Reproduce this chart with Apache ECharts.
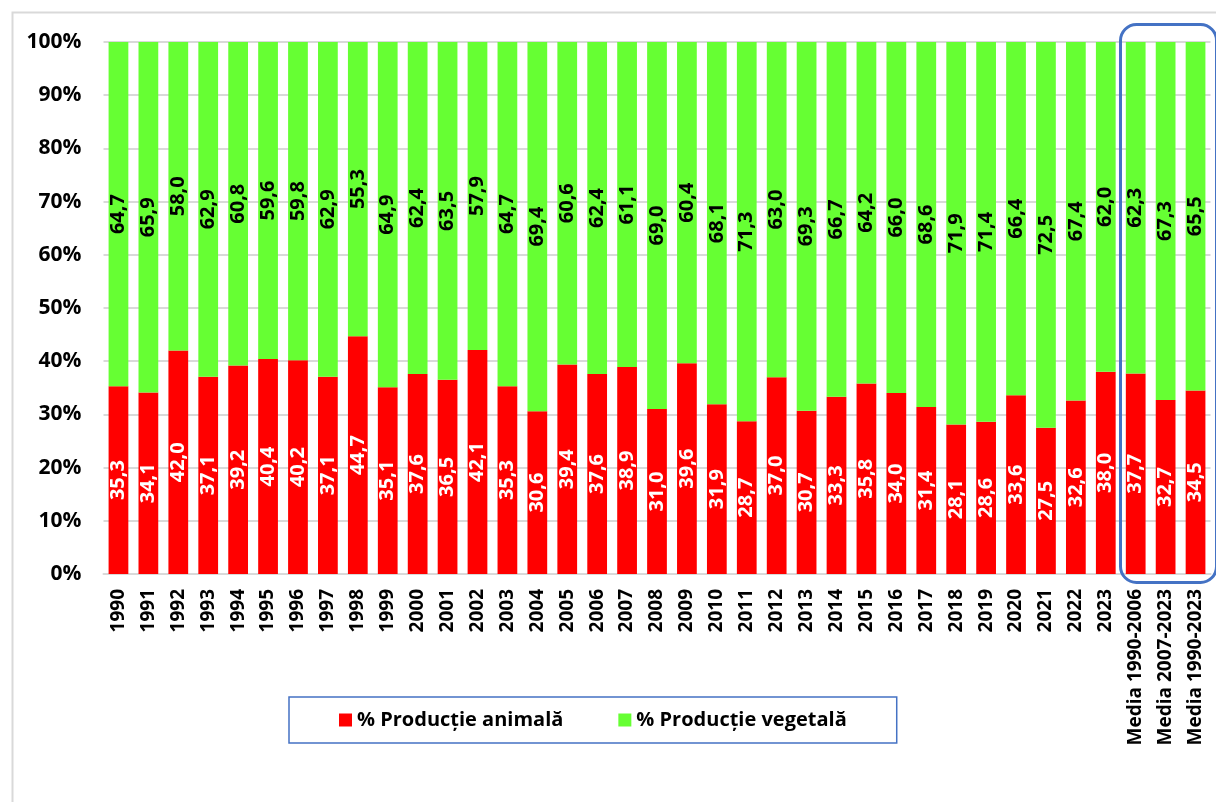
<!DOCTYPE html>
<html>
<head>
<meta charset="utf-8">
<script src="https://cdn.jsdelivr.net/npm/echarts@6/dist/echarts.min.js"></script>
<style>
    html, body { margin: 0; padding: 0; background: #fff; }
    #chart { width: 1216px; height: 802px; }
</style>
</head>
<body>
<div id="chart"></div>
<script>
var categories = ['1990', '1991', '1992', '1993', '1994', '1995', '1996', '1997', '1998', '1999',
    '2000', '2001', '2002', '2003', '2004', '2005', '2006', '2007', '2008', '2009',
    '2010', '2011', '2012', '2013', '2014', '2015', '2016', '2017', '2018', '2019',
    '2020', '2021', '2022', '2023', 'Media 1990-2006', 'Media 2007-2023', 'Media 1990-2023'];

var animalValues = [35.3, 34.1, 42.0, 37.1, 39.2, 40.4, 40.2, 37.1, 44.7, 35.1,
    37.6, 36.5, 42.1, 35.3, 30.6, 39.4, 37.6, 38.9, 31.0, 39.6,
    31.9, 28.7, 37.0, 30.7, 33.3, 35.8, 34.0, 31.4, 28.1, 28.6,
    33.6, 27.5, 32.6, 38.0, 37.7, 32.7, 34.5];

var vegetalValues = [64.7, 65.9, 58.0, 62.9, 60.8, 59.6, 59.8, 62.9, 55.3, 64.9,
    62.4, 63.5, 57.9, 64.7, 69.4, 60.6, 62.4, 61.1, 69.0, 60.4,
    68.1, 71.3, 63.0, 69.3, 66.7, 64.2, 66.0, 68.6, 71.9, 71.4,
    66.4, 72.5, 67.4, 62.0, 62.3, 67.3, 65.5];

var yTicks = [0, 10, 20, 30, 40, 50, 60, 70, 80, 90, 100];

var FONT = '"Open Sans", sans-serif';

function fmtValue(p) {
    return p.value.toFixed(1).replace('.', ',');
}

var chart = echarts.init(document.getElementById('chart'));

chart.setOption({
    animation: false,
    backgroundColor: '#fff',
    grid: {
        left: 103.5,
        right: 5.5,
        top: 42,
        bottom: 228,
        containLabel: false
    },
    legend: {
        left: 289,
        top: 697,
        padding: [13, 50],
        borderColor: '#4472C4',
        borderWidth: 1.5,
        itemWidth: 13,
        itemHeight: 13,
        itemGap: 55,
        icon: 'rect',
        textStyle: {
            fontFamily: FONT,
            fontWeight: 'bold',
            fontSize: 20,
            color: '#000'
        },
        data: ['% Producție animală', '% Producție vegetală']
    },
    xAxis: {
        type: 'category',
        data: categories,
        axisLine: { lineStyle: { color: '#d9d9d9', width: 2 } },
        axisTick: { show: false },
        axisLabel: {
            rotate: 90,
            interval: 0,
            margin: 15,
            fontFamily: FONT,
            fontWeight: 'bold',
            fontSize: 19,
            color: '#000'
        }
    },
    yAxis: {
        type: 'value',
        min: yTicks[0],
        max: yTicks[yTicks.length - 1],
        interval: 10,
        axisLine: { show: false },
        axisTick: { show: false },
        splitLine: { lineStyle: { color: '#d9d9d9', width: 2 } },
        axisLabel: {
            margin: 22,
            fontFamily: FONT,
            fontWeight: 'bold',
            fontSize: 21,
            color: '#000',
            formatter: '{value}%'
        }
    },
    series: [
        {
            name: '% Producție animală',
            type: 'bar',
            stack: 'total',
            barCategoryGap: '34%',
            itemStyle: { color: '#FF0000' },
            label: {
                show: true,
                position: 'inside',
                rotate: 90,
                fontFamily: FONT,
                fontWeight: 'bold',
                fontSize: 20,
                color: '#fff',
                formatter: fmtValue
            },
            data: animalValues
        },
        {
            name: '% Producție vegetală',
            type: 'bar',
            stack: 'total',
            barCategoryGap: '34%',
            itemStyle: { color: '#66FF33' },
            label: {
                show: true,
                position: 'inside',
                rotate: 90,
                fontFamily: FONT,
                fontWeight: 'bold',
                fontSize: 20,
                color: '#000',
                formatter: fmtValue
            },
            data: vegetalValues
        }
    ],
    graphic: [
        {
            // outer frame
            type: 'rect',
            left: 10,
            top: 10,
            shape: { width: 1230, height: 820 },
            style: { fill: 'none', stroke: '#d9d9d9', lineWidth: 2 },
            silent: true
        },
        {
            // highlight around the averages
            type: 'rect',
            left: 1118,
            top: 22,
            shape: { width: 96, height: 558, r: 16 },
            style: { fill: 'none', stroke: '#4472C4', lineWidth: 3 },
            silent: true,
            z: 100
        }
    ]
});
</script>
</body>
</html>
